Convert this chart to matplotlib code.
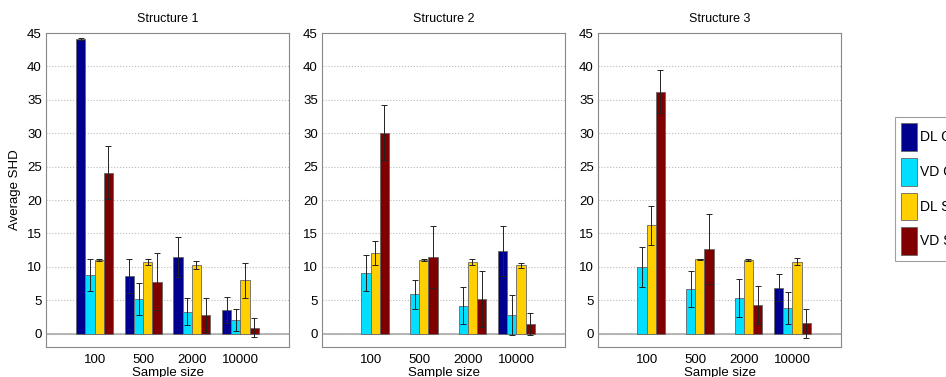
import numpy as np
import matplotlib
matplotlib.use('Agg')
import matplotlib.pyplot as plt

# sample sizes on the x axis
sizes = ['100', '500', '2000', '10000']
methods = ['DL C', 'VD C', 'DL S', 'VD S']
colors = ['#00008f', '#00dfff', '#ffcf00', '#800000']
titles = ['Structure 1', 'Structure 2', 'Structure 3']

# average SHD, one row per method (DL C, VD C, DL S, VD S)
s1_mean = [[44.1, 8.6, 11.5, 3.6],
           [8.8, 5.2, 3.3, 2.1],
           [11.05, 10.7, 10.3, 8.0],
           [24.1, 7.8, 2.8, 0.9]]
s1_err = [[0.1, 2.5, 3.0, 1.95],
          [2.4, 2.45, 2.05, 1.65],
          [0.12, 0.5, 0.55, 2.6],
          [4.0, 4.2, 2.6, 1.45]]

s2_mean = [[np.nan, np.nan, np.nan, 12.4],
           [9.1, 5.9, 4.2, 2.8],
           [12.1, 11.0, 10.7, 10.2],
           [30.1, 11.5, 5.2, 1.45]]
s2_err = [[0, 0, 0, 3.75],
          [2.65, 2.2, 2.75, 3.0],
          [1.8, 0.12, 0.5, 0.4],
          [4.1, 4.6, 4.25, 1.65]]

s3_mean = [[np.nan, np.nan, np.nan, 6.9],
           [10.0, 6.7, 5.35, 3.85],
           [16.2, 11.1, 11.0, 10.75],
           [36.2, 12.7, 4.3, 1.55]]
s3_err = [[0, 0, 0, 2.0],
          [3.0, 2.65, 2.85, 2.45],
          [2.95, 0.1, 0.12, 0.5],
          [3.2, 5.2, 2.85, 2.15]]

means = [s1_mean, s2_mean, s3_mean]
errs = [s1_err, s2_err, s3_err]

plt.rcParams['font.family'] = ['Liberation Sans', 'DejaVu Sans']
fig = plt.figure(figsize=(9.46, 3.77), dpi=100)
W, H = 946.0, 377.0
lefts = [46, 322, 598]
width_px = 243
top, bottom = 33, 347

x = np.arange(1, 5)
bw = 0.19
offs = [-1.5 * bw, -0.5 * bw, 0.5 * bw, 1.5 * bw]

handles = []
for k in range(3):
    ax = fig.add_axes([lefts[k] / W, 1 - bottom / H, width_px / W, (bottom - top) / H])
    for i in range(4):
        m = np.array(means[k][i], dtype=float)
        e = np.array(errs[k][i], dtype=float)
        b = ax.bar(x + offs[i], m, bw, color=colors[i], edgecolor='#666666', linewidth=0.6, zorder=3)
        ok = ~np.isnan(m)
        ax.errorbar((x + offs[i])[ok], m[ok], yerr=e[ok], fmt='none', ecolor='#222222',
                    elinewidth=0.7, capsize=2, capthick=0.7, zorder=4)
        if k == 0:
            handles.append(b)
    ax.axhline(0, color='#aaaaaa', lw=1.2, zorder=2)
    ax.set_xlim(0, 5)
    ax.set_ylim(-2, 45)
    ax.set_yticks(range(0, 46, 5))
    ax.set_xticks(x)
    ax.set_xticklabels(sizes)
    ax.yaxis.grid(True, linestyle=':', color='#bbbbbb', lw=0.8, zorder=0)
    for sp in ax.spines.values():
        sp.set_color('#888888')
    ax.tick_params(length=0, labelsize=9.5)
    ax.tick_params(axis='y', pad=3)
    ax.tick_params(axis='x', pad=5)
    ax.set_title(titles[k], fontsize=9, pad=8)
    ax.set_xlabel('Sample size', fontsize=9.5, labelpad=1)
    if k == 0:
        ax.set_ylabel('Average SHD', fontsize=9.5, labelpad=4)

leg = fig.legend(handles, methods, loc='upper left', bbox_to_anchor=(895 / W, 1 - 117 / H),
                 fontsize=10, handlelength=1.15, handleheight=2.7, labelspacing=0.5,
                 handletextpad=0.2, borderpad=0.45, borderaxespad=0, fancybox=False,
                 frameon=True)
leg.get_frame().set_edgecolor('#888888')
leg.get_frame().set_linewidth(0.8)

plt.savefig('out.png', dpi=100)
